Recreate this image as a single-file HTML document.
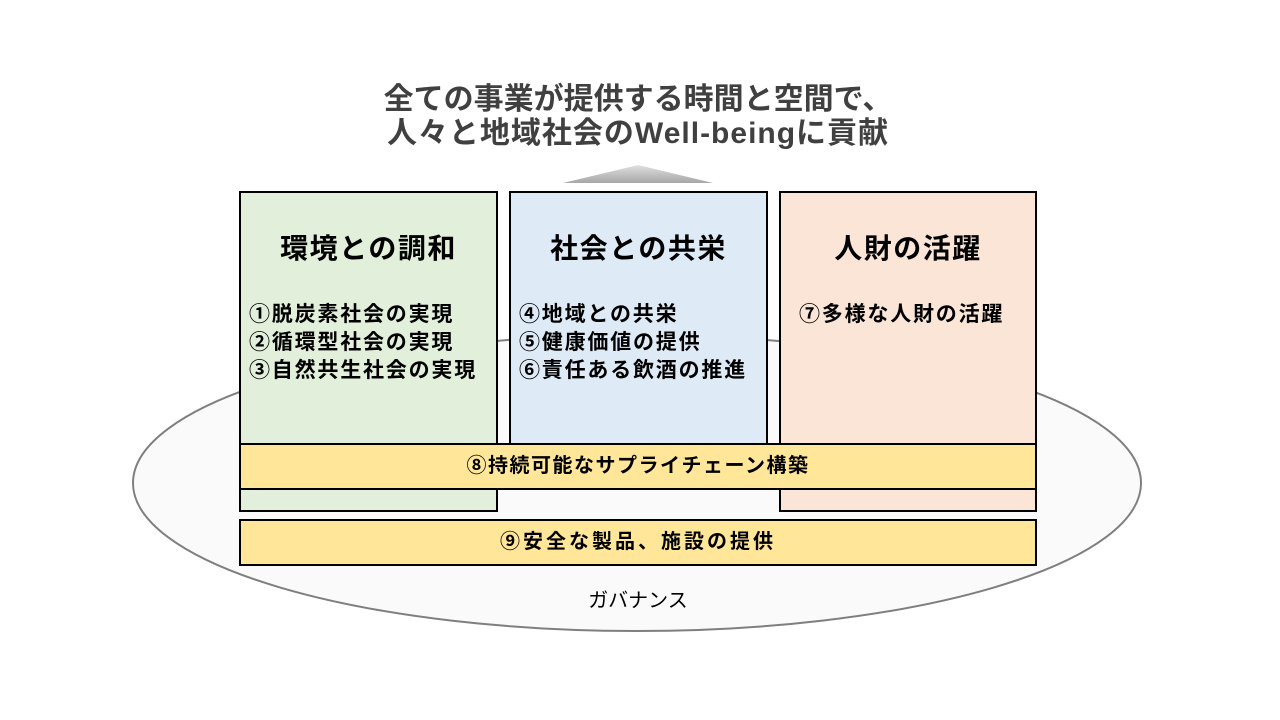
<!DOCTYPE html>
<html><head><meta charset="utf-8"><style>
body{margin:0;width:1280px;height:720px;background:#fff;position:relative;overflow:hidden;font-family:"Liberation Sans","Noto Sans CJK JP",sans-serif;font-weight:bold}
.a{position:absolute}
.box{position:absolute;border:2px solid #000;box-sizing:border-box}
.h{position:absolute;left:0;right:0;text-align:center;font-size:28px;letter-spacing:1.5px;top:34px;color:#000}
.it{position:absolute;left:8px;top:108px;font-size:21px;letter-spacing:1.8px;line-height:28px;color:#000;white-space:nowrap}
.bar{position:absolute;border:2px solid #000;box-sizing:border-box;background:#ffe699;text-align:center;font-size:20px;letter-spacing:1.5px;color:#000}
</style></head><body>
<svg class="a" style="left:0;top:0" width="1280" height="720">
<defs><linearGradient id="g" x1="0" y1="0" x2="0" y2="1"><stop offset="0" stop-color="#e0e0e0"/><stop offset="1" stop-color="#a6a6a6"/></linearGradient></defs>
<ellipse cx="637" cy="483" rx="504" ry="148" fill="#fafafa" stroke="#7f7f7f" stroke-width="2"/>
<polygon points="638,165 713,183 563,183" fill="url(#g)"/>
</svg>
<div class="a" style="left:0;width:1276px;top:83px;text-align:center;font-size:30px;line-height:34px;color:#404040">全ての事業が提供する時間と空間で、<br><span style="letter-spacing:1px">人々と地域社会のWell-beingに貢献</span></div>
<div class="box" style="left:239px;top:191px;width:259px;height:321px;background:#e2efda"><div class="h">環境との調和</div><div class="it">①脱炭素社会の実現<br>②循環型社会の実現<br>③自然共生社会の実現</div></div>
<div class="box" style="left:509px;top:191px;width:259px;height:260px;background:#deebf7"><div class="h">社会との共栄</div><div class="it">④地域との共栄<br>⑤健康価値の提供<br>⑥責任ある飲酒の推進</div></div>
<div class="box" style="left:779px;top:191px;width:258px;height:321px;background:#fbe5d6"><div class="h">人財の活躍</div><div class="it" style="left:18px">⑦多様な人財の活躍</div></div>
<div class="bar" style="left:239px;top:443px;width:798px;height:47px;line-height:43px">⑧持続可能なサプライチェーン構築</div>
<div class="bar" style="left:239px;top:519px;width:798px;height:47px;line-height:43px;letter-spacing:3px">⑨安全な製品、施設の提供</div>
<div class="a" style="left:0;width:1276px;top:584px;text-align:center;font-size:20px;color:#000;font-weight:normal">ガバナンス</div>
</body></html>
